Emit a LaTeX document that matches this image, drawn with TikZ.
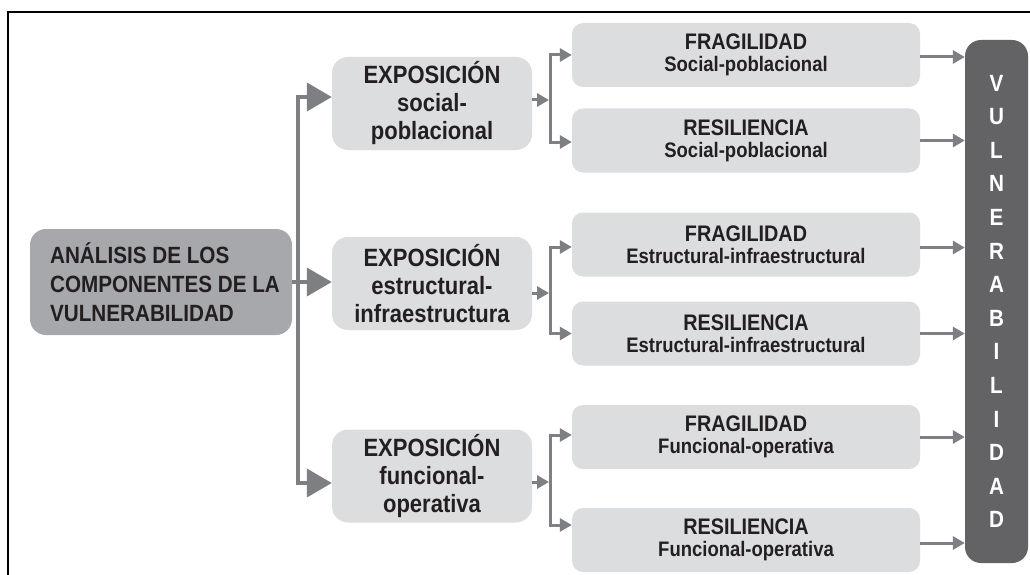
\documentclass[tikz,border=0pt]{standalone}
\usepackage{fontspec}
\setmainfont{Liberation Sans}
\newfontfamily\cf[FakeStretch=0.88]{Liberation Sans}
\usetikzlibrary{arrows.meta}
\definecolor{boxlight}{HTML}{DCDDDF}
\definecolor{boxmid}{HTML}{A7A8AC}
\definecolor{boxdark}{HTML}{636366}
\definecolor{arrowgray}{HTML}{7E7F82}
\definecolor{txt}{HTML}{231F20}
\begin{document}
\begin{tikzpicture}[x=1pt,y=-1pt,
 mainbox/.style={fill=boxmid, rounded corners=16pt, minimum width=262pt, minimum height=106pt, align=left, inner sep=0pt, text=txt, font=\cf\bfseries\fontsize{23.5}{29}\selectfont},
 expobox/.style={fill=boxlight, rounded corners=16pt, minimum width=200pt, minimum height=93pt, align=center, inner sep=0pt, text=txt, font=\cf\bfseries\fontsize{25}{28}\selectfont},
 compbox/.style={fill=boxlight, rounded corners=11pt, minimum width=348pt, minimum height=64pt, align=center, inner sep=0pt, text=txt, font=\cf\bfseries\fontsize{22.5}{22}\selectfont},
 vulnbox/.style={fill=boxdark, rounded corners=16pt, minimum width=63pt, minimum height=523pt, align=center, inner sep=0pt, text=white, font=\cf\bfseries\fontsize{23.5}{33.6}\selectfont},
 bigarrow/.style={draw=arrowgray, line width=4pt, -{Triangle[length=25pt,width=28pt]}},
 smallarrow/.style={draw=arrowgray, line width=3pt, -{Triangle[length=12pt,width=13pt]}},
]
\useasboundingbox (0,0) rectangle (1030,575);
\fill[white] (0,0) rectangle (1030,575);
\draw[line width=2pt] (8,590) -- (8,12) -- (1040,12);

% nodes
\node[mainbox] (main) at (161,282) {\hspace*{8pt}ANÁLISIS DE LOS\\\hspace*{8pt}COMPONENTES DE LA\\\hspace*{8pt}VULNERABILIDAD};

\node[expobox] (exp1) at (432,103.5) {EXPOSICIÓN\\social-\\poblacional};
\node[expobox] (exp2) at (432,283.5) {EXPOSICIÓN\\estructural-\\infraestructura};
\node[expobox] (exp3) at (432,476) {EXPOSICIÓN\\funcional-\\operativa};

\newcommand{\subt}[1]{{\fontsize{21}{22}\selectfont #1}}
\node[compbox] (f1) at (746,55) {FRAGILIDAD\\\subt{Social-poblacional}};
\node[compbox] (r1) at (746,140.5) {RESILIENCIA\\\subt{Social-poblacional}};
\node[compbox] (f2) at (746,244.5) {FRAGILIDAD\\\subt{Estructural-infraestructural}};
\node[compbox] (r2) at (746,333.5) {RESILIENCIA\\\subt{Estructural-infraestructural}};
\node[compbox] (f3) at (746,437) {FRAGILIDAD\\\subt{Funcional-operativa}};
\node[compbox] (r3) at (746,540) {RESILIENCIA\\\subt{Funcional-operativa}};

\node[vulnbox] (vul) at (996.5,301.5) {V\\U\\L\\N\\E\\R\\A\\B\\I\\L\\I\\D\\A\\D};

% trunk connectors
\coordinate (j2) at (298,282);
\draw[bigarrow] (j2) |- ([yshift=6.5pt]exp1.west);
\draw[bigarrow] (j2) |- ([yshift=-7pt]exp3.west);
\draw[bigarrow] (main.east) -- (main.east -| exp2.west);

% brackets
\coordinate (b1) at (550,100);
\coordinate (b2) at (550,293);
\coordinate (b3) at (550,482);
\draw[smallarrow] (exp1.east |- b1) -- ([xshift=-1pt]b1);
\draw[smallarrow] (exp2.east |- b2) -- ([xshift=-1pt]b2);
\draw[smallarrow] (exp3.east |- b3) -- ([xshift=-1pt]b3);
\draw[smallarrow] (b1) |- (f1.west);
\draw[smallarrow] (b1) |- ([yshift=-1.5pt]r1.west);
\draw[smallarrow] (b2) |- ([yshift=-2.5pt]f2.west);
\draw[smallarrow] (b2) |- (r2.west);
\draw[smallarrow] (b3) |- ([yshift=2pt]f3.west);
\draw[smallarrow] (b3) |- ([yshift=15pt]r3.west);

% to vulnerabilidad
\foreach \n/\d in {f1/-2,r1/0,f2/-3,r2/0,f3/0,r3/-3}{
  \draw[smallarrow] ([yshift=\d pt]\n.east) -- ([yshift=\d pt]\n.east -| vul.west);
}
\end{tikzpicture}
\end{document}
